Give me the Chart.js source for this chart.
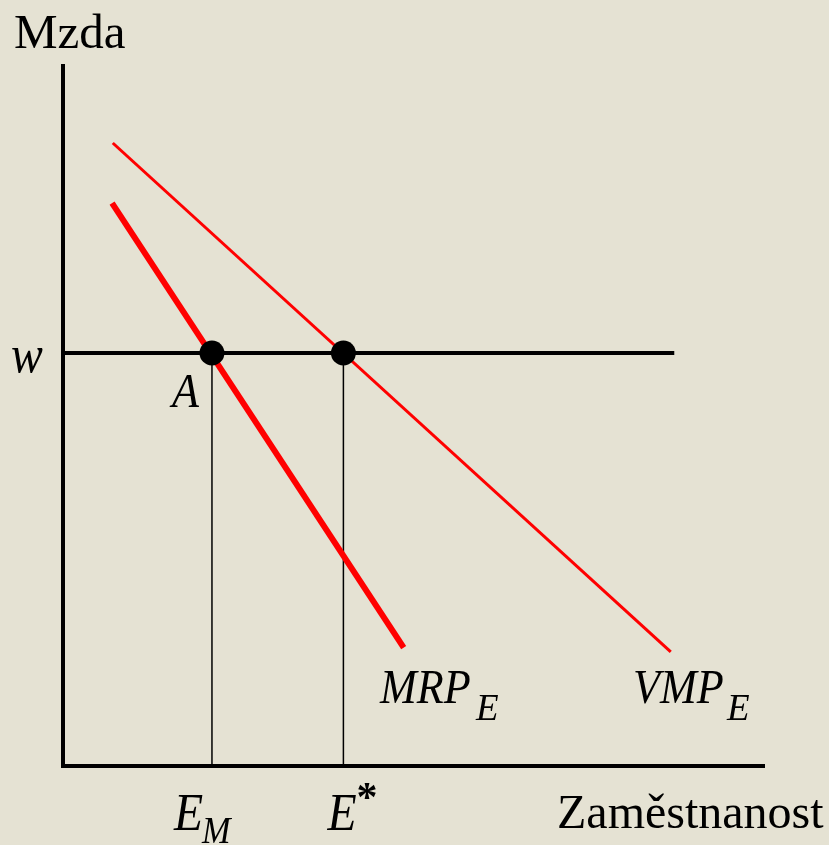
<!DOCTYPE html>
<html>
<head>
<meta charset="utf-8">
<script src="https://cdn.jsdelivr.net/npm/chart.js@4"></script>
<style>
  html, body { margin: 0; padding: 0; background: #E5E2D3; }
  canvas { display: block; }
</style>
</head>
<body>
<canvas id="c" width="829" height="845"></canvas>
<script>
// ---- data (employment on x, wage on y, arbitrary 0-100 units) ----
const vmpX = [7.1, 86.7];
const vmpY = [89.0, 16.3];
const mrpX = [7.0, 48.6];
const mrpY = [80.4, 16.9];
const wageLevel = 59;
const wageLineX = [0, 87.2];
const employmentMonopsony = 21.25;   // E_M
const employmentCompetitive = 40;    // E*
const axisTitles = ['Mzda', 'Zaměstnanost'];
const curveNames = ['MRP', 'VMP'];
const curveSubscript = 'E';

const BG = '#E5E2D3';
const pts = (xs, ys) => xs.map((x, i) => ({ x: x, y: ys[i] }));

const datasets = [
  { // equilibrium points
    data: [{ x: employmentMonopsony, y: wageLevel }, { x: employmentCompetitive, y: wageLevel }],
    showLine: false, pointRadius: 12.5, pointBackgroundColor: '#000', pointBorderWidth: 0, order: 0
  },
  { // MRP_E
    data: pts(mrpX, mrpY), borderColor: '#FF0000', borderWidth: 6, pointRadius: 0, order: 1
  },
  { // VMP_E
    data: pts(vmpX, vmpY), borderColor: '#FF0000', borderWidth: 3, pointRadius: 0, order: 1
  },
  { // wage line
    data: pts(wageLineX, [wageLevel, wageLevel]), borderColor: '#000', borderWidth: 4, pointRadius: 0, order: 2
  },
  { // drop line E_M
    data: pts([employmentMonopsony, employmentMonopsony], [0, wageLevel]), borderColor: '#000', borderWidth: 1.5, pointRadius: 0, order: 2
  },
  { // drop line E*
    data: pts([employmentCompetitive, employmentCompetitive], [0, wageLevel]), borderColor: '#000', borderWidth: 1.5, pointRadius: 0, order: 2
  }
];
datasets.forEach(d => { d.clip = false; d.borderCapStyle = 'butt'; d.tension = 0; });

const bgPlugin = {
  id: 'bg',
  beforeDraw(chart) {
    const ctx = chart.ctx;
    ctx.save();
    ctx.fillStyle = BG;
    ctx.fillRect(0, 0, chart.width, chart.height);
    ctx.restore();
  }
};

function txt(ctx, s, x, y, font, sx) {
  ctx.save();
  ctx.font = font;
  ctx.fillStyle = '#000';
  ctx.textBaseline = 'alphabetic';
  ctx.textAlign = 'left';
  ctx.translate(x, y);
  ctx.scale(sx || 1, 1);
  ctx.fillText(s, 0, 0);
  ctx.restore();
}

const labelPlugin = {
  id: 'labels',
  afterDraw(chart) {
    const ctx = chart.ctx;
    const xs = chart.scales.x, ys = chart.scales.y;
    const serif = '"Liberation Serif", "Times New Roman", serif';
    const it = (px) => 'italic ' + px + 'px ' + serif;
    // axis titles
    txt(ctx, axisTitles[0], 14, 48, '49px ' + serif);
    txt(ctx, axisTitles[1], 557, 828, '48px ' + serif);
    // wage label
    const wy = ys.getPixelForValue(wageLevel);
    txt(ctx, 'w', 11, wy + 19, it(53), 0.9);
    // point A
    const ax = xs.getPixelForValue(employmentMonopsony);
    txt(ctx, 'A', ax - 40, wy + 54, it(49), 0.9);
    // E_M
    txt(ctx, 'E', ax - 38, 830, it(53), 0.9);
    txt(ctx, 'M', ax - 10, 843, it(38), 0.9);
    // E*
    const ex = xs.getPixelForValue(employmentCompetitive);
    txt(ctx, 'E', ex - 16, 830, it(53), 0.9);
    txt(ctx, '*', ex + 13, 811, 'bold 42px ' + serif);
    // curve labels
    txt(ctx, curveNames[0], 380, 703, it(49), 0.9);
    txt(ctx, curveSubscript, 476, 720, it(37));
    txt(ctx, curveNames[1], 633, 703, it(49), 0.9);
    txt(ctx, curveSubscript, 727, 720, it(37));
  }
};

new Chart(document.getElementById('c'), {
  type: 'line',
  data: { datasets: datasets },
  options: {
    responsive: false,
    animation: false,
    devicePixelRatio: 1,
    layout: { padding: { left: 63, right: 65, top: 66, bottom: 79 } },
    plugins: { legend: { display: false }, tooltip: { enabled: false } },
    scales: {
      x: {
        type: 'linear', min: 0, max: 100,
        grid: { display: false, drawTicks: false },
        border: { display: true, color: '#000', width: 4 },
        ticks: { display: false },
        afterFit: s => { s.height = 0; }
      },
      y: {
        type: 'linear', min: 0, max: 100,
        grid: { display: false, drawTicks: false },
        border: { display: true, color: '#000', width: 4 },
        ticks: { display: false },
        afterFit: s => { s.width = 0; }
      }
    }
  },
  plugins: [bgPlugin, labelPlugin]
});
</script>
</body>
</html>
